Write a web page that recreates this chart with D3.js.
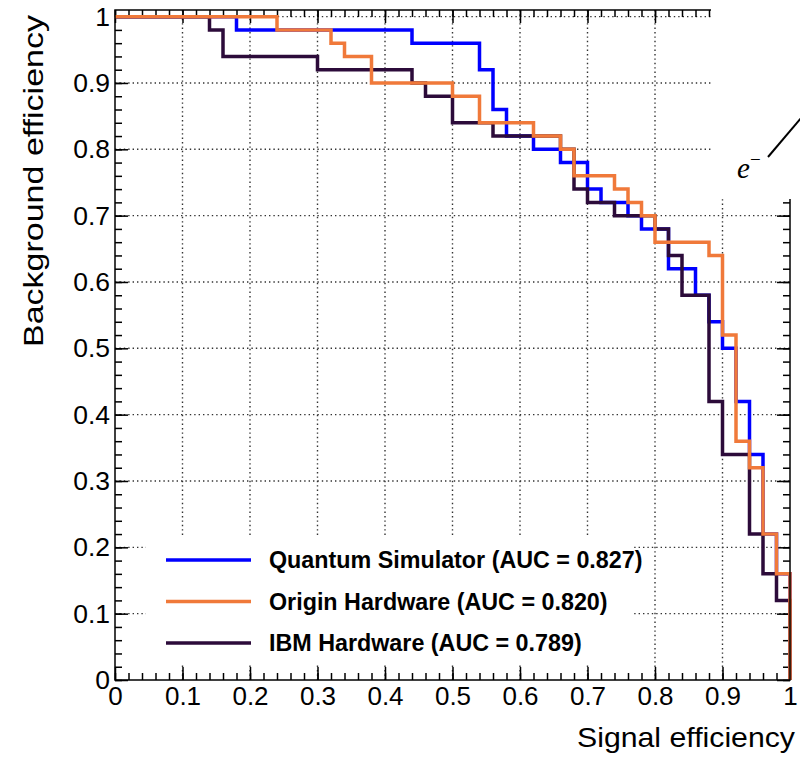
<!DOCTYPE html>
<meta charset="utf-8">
<style>
body { margin: 0; background: #fff; }
text { font-family: "Liberation Sans", Arial, Helvetica, sans-serif; fill: #000; }
.grid line { stroke: #333; stroke-width: 1.4; stroke-dasharray: 1.4,3; }
.axis path { display: none; }
.axis line { stroke: #000; stroke-width: 1.5; }
.curve { fill: none; stroke-width: 3.5; stroke-linejoin: miter; }
</style>
<svg width="800" height="757"></svg>
<script src="https://cdn.jsdelivr.net/npm/d3@7"></script>
<script>

// ROC curves: signal efficiency where a step starts, background efficiency after it
var simSig = [0, 0.18, 0.44, 0.54, 0.56, 0.58, 0.62, 0.66, 0.70, 0.72, 0.76, 0.78, 0.82, 0.86, 0.88, 0.90, 0.92, 0.94, 0.96, 0.98, 1],
    simBkg = [1, 0.98, 0.96, 0.92, 0.86, 0.82, 0.80, 0.78, 0.74, 0.72, 0.70, 0.68, 0.62, 0.58, 0.54, 0.50, 0.42, 0.34, 0.22, 0.16, 0];

var originSig = [0, 0.24, 0.32, 0.34, 0.38, 0.50, 0.54, 0.62, 0.66, 0.68, 0.74, 0.76, 0.78, 0.80, 0.88, 0.90, 0.92, 0.94, 0.96, 0.98, 1],
    originBkg = [1, 0.98, 0.96, 0.94, 0.90, 0.88, 0.84, 0.82, 0.80, 0.76, 0.74, 0.72, 0.70, 0.66, 0.64, 0.52, 0.36, 0.32, 0.22, 0.16, 0];

var ibmSig = [0, 0.14, 0.16, 0.30, 0.44, 0.46, 0.50, 0.56, 0.66, 0.68, 0.70, 0.74, 0.80, 0.82, 0.84, 0.88, 0.90, 0.94, 0.96, 0.98, 1],
    ibmBkg = [1, 0.98, 0.94, 0.92, 0.90, 0.88, 0.84, 0.82, 0.80, 0.74, 0.72, 0.70, 0.68, 0.64, 0.58, 0.42, 0.34, 0.22, 0.16, 0.12, 0];

var seriesNames = ["Quantum Simulator (AUC = 0.827)", "Origin Hardware (AUC = 0.820)", "IBM Hardware (AUC = 0.789)"],
    seriesColors = ["#0000ff", "#f0793a", "#2c0b3a"];

var majorTicks = [0, 0.1, 0.2, 0.3, 0.4, 0.5, 0.6, 0.7, 0.8, 0.9, 1],
    tickLabels = ["0", "0.1", "0.2", "0.3", "0.4", "0.5", "0.6", "0.7", "0.8", "0.9", "1"],
    minorTicks = d3.range(0, 51).map(function(i) { return i / 50; });

var svg = d3.select("svg"),
    margin = {top: 10, right: 10, bottom: 77, left: 115},
    width = 675,
    height = 670;

var x = d3.scaleLinear().domain([0, 1]).range([0, width]),
    y = d3.scaleLinear().domain([0, 1.01]).range([height, 0]);

var g = svg.append("g")
    .attr("transform", "translate(" + margin.left + "," + margin.top + ")");

// dotted grid
var grid = g.append("g").attr("class", "grid");
grid.selectAll(".gx")
  .data(majorTicks.slice(1, 10))
  .enter().append("line")
    .attr("x1", function(d) { return x(d); })
    .attr("x2", function(d) { return x(d); })
    .attr("y1", 0)
    .attr("y2", height);
grid.selectAll(".gy")
  .data(majorTicks.slice(1))
  .enter().append("line")
    .attr("x1", 0)
    .attr("x2", width)
    .attr("y1", function(d) { return y(d); })
    .attr("y2", function(d) { return y(d); });

// axes, ticks pointing inwards like ROOT
function fmt(d) { return tickLabels[majorTicks.indexOf(d)]; }

var xAxis = g.append("g")
    .attr("class", "axis")
    .attr("transform", "translate(0," + height + ")");
xAxis.append("g").call(d3.axisBottom(x).tickValues(minorTicks).tickSize(-7).tickFormat(""));
xAxis.append("g").call(d3.axisBottom(x).tickValues(majorTicks).tickSize(-13).tickPadding(7).tickFormat(fmt))
  .selectAll("text")
    .style("font-size", "26px");

g.append("g").attr("class", "axis")
    .call(d3.axisTop(x).tickValues(minorTicks).tickSize(-7).tickFormat(""));
g.append("g").attr("class", "axis")
    .call(d3.axisTop(x).tickValues(majorTicks).tickSize(-13).tickFormat(""));

var yAxis = g.append("g").attr("class", "axis");
yAxis.append("g").call(d3.axisLeft(y).tickValues(minorTicks).tickSize(-7).tickFormat(""));
yAxis.append("g").call(d3.axisLeft(y).tickValues(majorTicks).tickSize(-13).tickPadding(5).tickFormat(fmt))
  .selectAll("text")
    .style("font-size", "26.5px");

var yRight = g.append("g").attr("class", "axis")
    .attr("transform", "translate(" + width + ",0)");
yRight.append("g").call(d3.axisRight(y).tickValues(minorTicks).tickSize(-7).tickFormat(""));
yRight.append("g").call(d3.axisRight(y).tickValues(majorTicks).tickSize(-13).tickFormat(""));

// curves
var line = d3.line()
    .x(function(d) { return x(d[0]); })
    .y(function(d) { return y(d[1]); })
    .curve(d3.curveStepAfter);

var curves = [d3.zip(simSig, simBkg), d3.zip(ibmSig, ibmBkg), d3.zip(originSig, originBkg)],
    curveColors = [seriesColors[0], seriesColors[2], seriesColors[1]];

g.selectAll(".curve")
  .data(curves)
  .enter().append("path")
    .attr("class", "curve")
    .attr("stroke", function(d, i) { return curveColors[i]; })
    .attr("d", line);

// frame
g.append("rect")
    .attr("width", width)
    .attr("height", height)
    .attr("fill", "none")
    .attr("stroke", "#000")
    .attr("stroke-width", 1.5);

// legend
g.append("rect")
    .attr("x", 31)
    .attr("y", 528)
    .attr("width", 488)
    .attr("height", 126)
    .attr("fill", "#fff");

var legend = g.selectAll(".legend")
  .data(seriesNames)
  .enter().append("g")
    .attr("transform", function(d, i) { return "translate(0," + (550 + i * 41.5) + ")"; });

legend.append("line")
    .attr("x1", 51)
    .attr("x2", 136)
    .attr("stroke", function(d, i) { return seriesColors[i]; })
    .attr("stroke-width", 3.5);

legend.append("text")
    .attr("x", 154)
    .attr("y", 8.3)
    .style("font-size", "23.3px")
    .style("font-weight", "bold")
    .text(function(d) { return d; });

// axis titles
svg.append("text")
    .attr("x", 795)
    .attr("y", 747)
    .attr("text-anchor", "end")
    .attr("textLength", 218)
    .attr("lengthAdjust", "spacingAndGlyphs")
    .style("font-size", "28px")
    .text("Signal efficiency");

svg.append("text")
    .attr("transform", "translate(43,15) rotate(-90)")
    .attr("text-anchor", "end")
    .attr("textLength", 332)
    .attr("lengthAdjust", "spacingAndGlyphs")
    .style("font-size", "27px")
    .text("Background efficiency");

// piece of the neighbouring figure lying over the corner
svg.append("rect")
    .attr("x", 711)
    .attr("y", 0)
    .attr("width", 89)
    .attr("height", 199)
    .attr("fill", "#fff");

svg.append("line")
    .attr("x1", 768)
    .attr("y1", 157)
    .attr("x2", 801)
    .attr("y2", 118)
    .attr("stroke", "#000")
    .attr("stroke-width", 2);

var e = svg.append("text")
    .attr("x", 737)
    .attr("y", 178)
    .style("font-family", "'Liberation Serif', 'DejaVu Serif', serif")
    .style("font-style", "italic")
    .style("font-size", "29px")
    .text("e");
e.append("tspan")
    .attr("dy", -12)
    .style("font-size", "19px")
    .style("font-style", "normal")
    .text("\u2212");

</script>
